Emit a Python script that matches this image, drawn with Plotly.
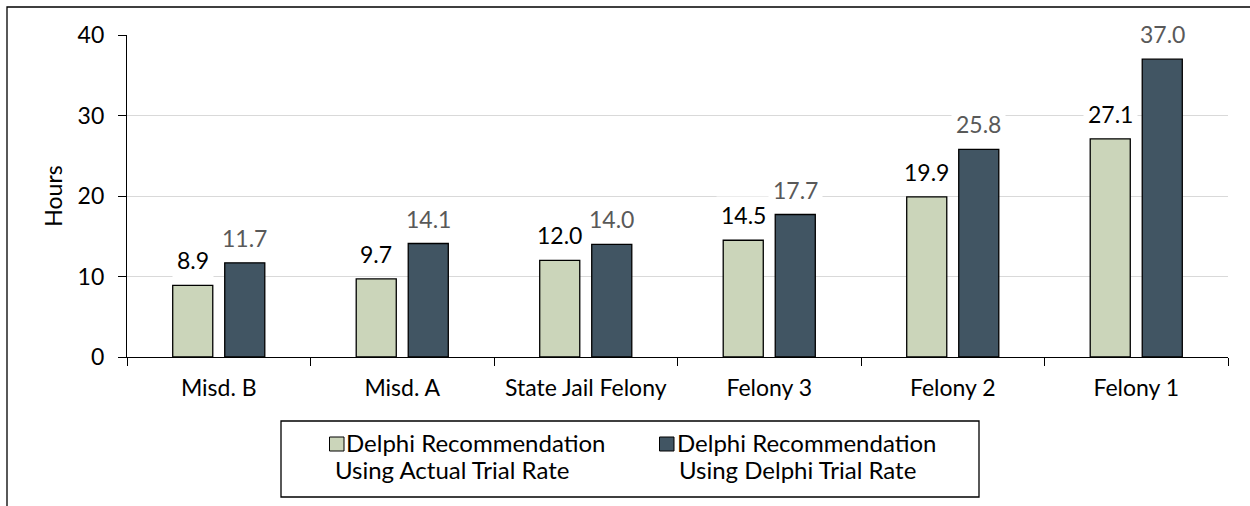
import plotly.graph_objects as go

categories = ["Misd. B", "Misd. A", "State Jail Felony", "Felony 3", "Felony 2", "Felony 1"]
actual_rate = [8.9, 9.7, 12.0, 14.5, 19.9, 27.1]
delphi_rate = [11.7, 14.1, 14.0, 17.7, 25.8, 37.0]
series_names = ["Delphi Recommendation", "Delphi Recommendation"]
series_sub = ["Using Actual Trial Rate", "Using Delphi Trial Rate"]
y_ticks = [0, 10, 20, 30, 40]

GREEN = "#CBD5BA"
DARK = "#415563"
FONT = "Lato"
FS = 23

W, H = 1250, 506
L, R, T, B = 127, 1228, 35, 357


def px2x(p):
    return (p - L) / (R - L)


def px2y(p):
    return (B - p) / (B - T)


fig = go.Figure()
fig.add_trace(go.Bar(x=categories, y=actual_rate, name=series_names[0] + " " + series_sub[0],
                     marker=dict(color=GREEN, line=dict(color="black", width=1.3)),
                     showlegend=False, hoverinfo="y"))
fig.add_trace(go.Bar(x=categories, y=delphi_rate, name=series_names[1] + " " + series_sub[1],
                     marker=dict(color=DARK, line=dict(color="black", width=1.3)),
                     showlegend=False, hoverinfo="y"))

annotations = []
for c, v in zip(categories, actual_rate):
    annotations.append(dict(x=c, y=v, xref="x", yref="y", text=f"{v:.1f}", showarrow=False,
                            xshift=-26, yshift=25, yanchor="middle", bgcolor="white", borderpad=4,
                            font=dict(family=FONT, size=FS, color="#000000")))
for c, v in zip(categories, delphi_rate):
    annotations.append(dict(x=c, y=v, xref="x", yref="y", text=f"{v:.1f}", showarrow=False,
                            xshift=26, yshift=25, yanchor="middle", bgcolor="white", borderpad=4,
                            font=dict(family=FONT, size=FS, color="#595959")))

# legend texts
leg_lines = [
    (346, 442, series_names[0]), (335, 469, series_sub[0]),
    (677, 442, series_names[1]), (679, 469, series_sub[1]),
]
for xp, yp, t in leg_lines:
    annotations.append(dict(x=px2x(xp - 2), y=px2y(yp), xref="paper", yref="paper", text=t,
                            showarrow=False, xanchor="left", yanchor="middle",
                            font=dict(family=FONT, size=FS + 1, color="#000000")))

shapes = [
    # outer chart frame
    dict(type="rect", xref="paper", yref="paper", x0=px2x(7), x1=px2x(1300), y0=px2y(560), y1=px2y(7),
         line=dict(color="black", width=1.3), layer="below"),
    # legend box
    dict(type="rect", xref="paper", yref="paper", x0=px2x(281), x1=px2x(979), y0=px2y(497), y1=px2y(421),
         line=dict(color="black", width=1.3), fillcolor="white"),
    dict(type="rect", xref="paper", yref="paper", x0=px2x(329.5), x1=px2x(344), y0=px2y(451), y1=px2y(437),
         line=dict(color="black", width=1), fillcolor=GREEN),
    dict(type="rect", xref="paper", yref="paper", x0=px2x(659.5), x1=px2x(674), y0=px2y(451), y1=px2y(437),
         line=dict(color="black", width=1), fillcolor=DARK),
]

fig.update_layout(
    width=W, height=H, autosize=False,
    margin=dict(l=L, r=W - R, t=T, b=H - B, pad=0),
    paper_bgcolor="white", plot_bgcolor="white",
    barmode="group", bargap=0.433, bargroupgap=0.23,
    font=dict(family=FONT, size=FS, color="black"),
    annotations=annotations, shapes=shapes,
    showlegend=False,
    xaxis=dict(showline=True, linecolor="black", linewidth=1.3, ticks="outside", ticklen=8,
               tickcolor="black", tickwidth=1.3, tickson="boundaries", showgrid=False,
               tickfont=dict(family=FONT, size=FS, color="black"), ticklabelstandoff=10,
               fixedrange=True),
    yaxis=dict(range=[0, 40], tickvals=y_ticks, showline=True, linecolor="black", linewidth=1.3,
               ticks="outside", ticklen=8, tickcolor="black", tickwidth=1.3,
               showgrid=True, gridcolor="#D9D9D9", gridwidth=1.3, zeroline=False,
               tickfont=dict(family=FONT, size=FS, color="black"), ticklabelstandoff=9,
               title=dict(text="Hours", font=dict(family=FONT, size=FS, color="black"), standoff=8),
               fixedrange=True),
)

fig.write_html("out.html",
               config={"displayModeBar": False},
               post_script="document.body.style.margin='0px';document.body.style.overflow='hidden';")
